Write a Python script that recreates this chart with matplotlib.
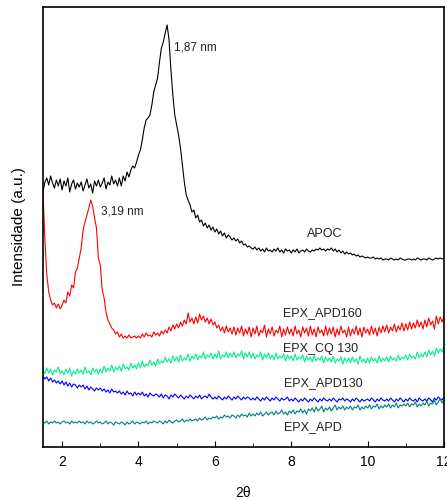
#### XRD patterns - 2D plot with matplotlib

import numpy as np
import matplotlib.pyplot as plt
from matplotlib.ticker import MultipleLocator, NullLocator

## Global Setting

plt.rcParams['font.family'] = ['Liberation Sans', 'DejaVu Sans']

## Data Input (intensity in arbitrary units, sampled every 0.05 deg from 2theta = 1.5 to 12)

two_theta_start, two_theta_end = 1.5, 12.0

apoc = [
    255, 265, 269, 262, 271, 264, 259, 267, 261, 268,
    257, 266, 261, 269, 255, 263, 267, 258, 264, 260,
    265, 256, 262, 268, 259, 263, 254, 266, 261, 267,
    260, 264, 269, 258, 265, 262, 271, 263, 267, 261,
    269, 261, 271, 266, 275, 270, 277, 281, 279, 285,
    292, 297, 307, 319, 327, 329, 332, 342, 355, 362,
    369, 385, 399, 405, 414, 422, 407, 377, 352, 332,
    322, 312, 299, 282, 265, 252, 247, 242, 235, 237,
    229, 232, 225, 227, 221, 224, 219, 222, 217, 220,
    215, 218, 213, 216, 211, 214, 209, 212, 210, 207,
    209, 206, 208, 204, 206, 202, 203, 200, 201, 199,
    198, 200, 197, 199, 196, 198, 195, 199, 196, 197,
    195, 198, 196, 199, 195, 197, 194, 198, 196, 197,
    194, 197, 195, 198, 194, 196, 197, 195, 198, 196,
    195, 197, 196, 198, 197, 199, 197, 198, 196, 198,
    197, 199, 196, 198, 195, 197, 194, 196, 193, 195,
    193, 194, 192, 193, 191, 192, 190, 191, 190, 189,
    190, 189, 189, 190, 188, 189, 188, 189, 187, 188,
    188, 187, 189, 188, 187, 188, 187, 189, 188, 187,
    187, 188, 188, 187, 188, 187, 189, 188, 187, 188,
    188, 187, 189, 188, 187, 188, 189, 188, 189, 188,
    189,
]

epx_apd160 = [
    255, 207, 172, 155, 147, 142, 144, 139, 143, 138,
    142, 147, 144, 155, 151, 162, 159, 175, 179, 189,
    199, 217, 225, 232, 239, 247, 241, 229, 219, 189,
    182, 157, 149, 135, 127, 123, 119, 117, 113, 115,
    110, 113, 109, 111, 109, 112, 109, 110, 111, 109,
    111, 109, 113, 110, 114, 111, 112, 110, 115, 112,
    114, 111, 116, 113, 117, 114, 120, 116, 122, 118,
    123, 119, 125, 121, 127, 123, 134, 125, 129, 123,
    130, 124, 133, 127, 131, 125, 129, 123, 128, 122,
    125, 119, 122, 116, 120, 114, 121, 115, 119, 113,
    120, 112, 119, 114, 121, 111, 118, 113, 120, 110,
    119, 113, 121, 111, 117, 114, 122, 110, 118, 113,
    120, 111, 117, 114, 121, 110, 118, 112, 120, 113,
    118, 111, 121, 113, 117, 110, 120, 114, 119, 111,
    121, 112, 118, 110, 120, 114, 117, 111, 121, 112,
    119, 113, 120, 110, 118, 112, 121, 114, 117, 110,
    120, 111, 118, 113, 121, 112, 119, 110, 120, 114,
    118, 112, 121, 113, 119, 111, 120, 114, 121, 115,
    122, 114, 120, 116, 123, 115, 121, 117, 124, 116,
    123, 117, 125, 118, 124, 119, 127, 120, 125, 118,
    127, 120, 129, 122, 126, 118, 131, 123, 130, 125,
    131,
]

epx_cq130 = [
    77, 73, 79, 74, 78, 72, 77, 75, 80, 73,
    76, 72, 78, 74, 79, 71, 76, 73, 78, 74,
    77, 73, 80, 74, 76, 72, 79, 75, 78, 73,
    78, 74, 81, 75, 79, 76, 82, 75, 80, 77,
    81, 76, 83, 78, 80, 77, 84, 79, 82, 78,
    84, 79, 86, 80, 83, 81, 87, 82, 85, 81,
    88, 83, 86, 84, 90, 85, 88, 84, 91, 86,
    90, 85, 92, 86, 89, 87, 93, 86, 91, 88,
    93, 87, 91, 89, 95, 88, 92, 90, 94, 88,
    93, 89, 96, 88, 92, 90, 95, 89, 94, 90,
    95, 89, 93, 91, 96, 88, 94, 90, 95, 89,
    94, 88, 92, 90, 95, 87, 93, 89, 94, 88,
    92, 87, 94, 88, 91, 89, 93, 86, 92, 88,
    91, 86, 93, 87, 90, 88, 92, 85, 91, 87,
    90, 85, 92, 86, 89, 87, 91, 84, 90, 86,
    89, 85, 91, 84, 88, 86, 90, 83, 89, 85,
    89, 84, 90, 85, 88, 83, 91, 85, 88, 84,
    89, 84, 90, 86, 88, 84, 91, 85, 89, 86,
    90, 85, 91, 87, 89, 86, 92, 87, 90, 88,
    92, 87, 93, 89, 91, 88, 95, 89, 93, 90,
    95, 90, 97, 92, 96, 91, 99, 94, 98, 95,
    101,
]

epx_apd130 = [
    71, 68, 70, 66, 69, 65, 67, 64, 66, 63,
    66, 62, 65, 61, 64, 60, 63, 62, 59, 62,
    60, 62, 58, 61, 57, 60, 58, 56, 59, 57,
    59, 56, 58, 55, 57, 54, 58, 55, 56, 54,
    56, 53, 55, 52, 56, 53, 54, 51, 55, 52,
    54, 52, 55, 51, 53, 50, 54, 52, 51, 53,
    52, 50, 53, 49, 52, 51, 48, 52, 50, 53,
    51, 49, 52, 50, 48, 51, 49, 52, 50, 48,
    51, 49, 52, 48, 50, 51, 49, 53, 50, 48,
    50, 48, 51, 49, 47, 50, 48, 51, 49, 47,
    50, 48, 51, 49, 47, 50, 48, 50, 49, 47,
    49, 47, 50, 48, 46, 49, 47, 50, 48, 46,
    49, 47, 50, 48, 46, 49, 47, 48, 50, 46,
    48, 46, 49, 47, 45, 48, 46, 49, 47, 45,
    48, 46, 49, 47, 45, 48, 46, 49, 47, 46,
    48, 46, 49, 47, 45, 48, 47, 49, 46, 48,
    47, 45, 48, 46, 49, 47, 45, 48, 46, 47,
    48, 46, 49, 47, 45, 48, 46, 49, 47, 46,
    48, 46, 49, 47, 45, 48, 46, 49, 47, 45,
    48, 46, 49, 47, 46, 48, 45, 49, 47, 46,
    48, 46, 49, 47, 45, 49, 47, 50, 48, 47,
    50,
]

epx_apd = [
    25, 24, 26, 23, 25, 24, 26, 24, 25, 23,
    25, 26, 24, 25, 23, 26, 24, 25, 24, 26,
    24, 25, 23, 26, 24, 25, 23, 24, 26, 24,
    25, 23, 24, 26, 23, 25, 24, 22, 25, 24,
    23, 25, 24, 22, 25, 23, 24, 26, 23, 25,
    24, 23, 25, 24, 26, 23, 25, 24, 26, 25,
    24, 26, 25, 23, 26, 24, 27, 25, 24, 26,
    27, 25, 26, 28, 25, 27, 26, 28, 26, 27,
    28, 26, 29, 27, 28, 30, 27, 29, 28, 30,
    29, 31, 28, 30, 29, 32, 30, 31, 29, 32,
    31, 29, 32, 30, 33, 31, 32, 30, 34, 31,
    33, 31, 34, 32, 35, 31, 33, 35, 32, 34,
    35, 32, 36, 33, 34, 37, 33, 35, 32, 36,
    34, 37, 33, 36, 35, 38, 34, 37, 33, 38,
    36, 39, 35, 40, 36, 38, 41, 35, 39, 37,
    40, 36, 39, 42, 37, 40, 38, 41, 37, 40,
    38, 41, 37, 40, 39, 42, 37, 40, 38, 41,
    39, 42, 38, 41, 40, 43, 38, 41, 39, 42,
    40, 43, 39, 42, 40, 44, 39, 42, 41, 43,
    41, 44, 40, 43, 42, 45, 40, 43, 41, 44,
    42, 46, 41, 44, 43, 47, 42, 45, 48, 44,
    47,
]

series_names  = ['APOC', 'EPX_APD160', 'EPX_CQ 130', 'EPX_APD130', 'EPX_APD']
series_colors = ['#000000', '#FF0000', '#00F08C', '#0000FF', '#008080']
series_values = [apoc, epx_apd160, epx_cq130, epx_apd130, epx_apd]

# curve label anchors (2theta, intensity)
label_pos = [(8.4, 213), (7.78, 134), (7.78, 98), (7.82, 64), (7.82, 20)]
peak_labels = [('1,87 nm', 4.93, 399), ('3,19 nm', 3.03, 235)]

## Plot Statement

fig = plt.figure(figsize=(4.47, 5.0), dpi=100)
ax = fig.add_axes([0.0962, 0.106, 0.8971, 0.880])

for name, values, color in zip(series_names, series_values, series_colors):
    x = np.linspace(two_theta_start, two_theta_end, len(values))
    ax.plot(x, values, color=color, lw=0.8, antialiased=True)

for (lx, ly), name in zip(label_pos, series_names):
    ax.text(lx, ly, name, fontsize=9, color='#222222', va='center', ha='left')

for txt, px, py in peak_labels:
    ax.text(px, py, txt, fontsize=8.5, color='#222222', va='center', ha='left')

ax.set_xlim(two_theta_start, two_theta_end)
ax.set_ylim(0, 440)

ax.xaxis.set_major_locator(MultipleLocator(2))
ax.xaxis.set_minor_locator(MultipleLocator(1))
ax.yaxis.set_major_locator(NullLocator())
ax.tick_params(axis='x', which='major', direction='in', length=4, labelsize=10, pad=6)
ax.tick_params(axis='x', which='minor', direction='in', length=3)

for spine in ax.spines.values():
    spine.set_linewidth(1.2)

ax.set_xlabel('2\u03b8', fontsize=10, labelpad=12)
ax.set_ylabel('Intensidade (a.u.)', fontsize=11, labelpad=12)

## Figure Output

fig.savefig('out.png', dpi=100)
